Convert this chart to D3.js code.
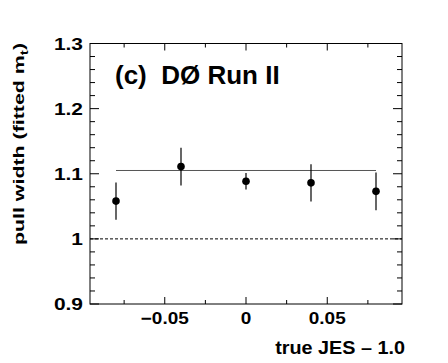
<!DOCTYPE html>
<html><head><meta charset="utf-8">
<script src="https://cdn.jsdelivr.net/npm/d3@7"></script>
<style>body{margin:0;background:#fff}text{font-family:"Liberation Sans",Arial,sans-serif;font-weight:bold}</style>
</head><body>
<svg id="c" width="448" height="363"></svg>
<script>
const jes = [-0.08, -0.04, 0.0, 0.04, 0.08];
const pullWidth = [1.058, 1.111, 1.0885, 1.086, 1.073];
const pullErr = [0.0285, 0.029, 0.0127, 0.0286, 0.029];
const fitValue = 1.105;
const fitRange = [-0.08, 0.08];
const xTicks = [-0.05, 0, 0.05];
const xTickLabels = ["\u22120.05", "0", "0.05"];
const yTicks = [0.9, 1.0, 1.1, 1.2, 1.3];
const yTickLabels = ["0.9", "1", "1.1", "1.2", "1.3"];

const svg = d3.select("#c");
const L = 90, R = 402, T = 43.5, B = 304;
const x = d3.scaleLinear().domain([-0.096, 0.096]).range([L, R]);
const y = d3.scaleLinear().domain([0.9, 1.3]).range([B, T]);

const g = svg.append("g");
g.append("rect").attr("x", L).attr("y", T).attr("width", R - L).attr("height", B - T)
  .attr("fill", "none").attr("stroke", "#000").attr("stroke-width", 1);

const xMinor = d3.range(-0.075, 0.0951, 0.025).map(v => +v.toFixed(3));
const yMinor = d3.range(0.9, 1.3001, 0.02).map(v => +v.toFixed(3));
const isMajorX = v => xTicks.some(t => Math.abs(t - v) < 1e-6);
const isMajorY = v => yTicks.some(t => Math.abs(t - v) < 1e-6);
xMinor.forEach(v => {
  const len = isMajorX(v) ? 7 : 4;
  g.append("line").attr("x1", x(v)).attr("x2", x(v)).attr("y1", B).attr("y2", B - len).attr("stroke", "#000");
  g.append("line").attr("x1", x(v)).attr("x2", x(v)).attr("y1", T).attr("y2", T + len).attr("stroke", "#000");
});
yMinor.forEach(v => {
  const len = isMajorY(v) ? 9 : 5;
  g.append("line").attr("y1", y(v)).attr("y2", y(v)).attr("x1", L).attr("x2", L + len).attr("stroke", "#000");
  g.append("line").attr("y1", y(v)).attr("y2", y(v)).attr("x1", R).attr("x2", R - len).attr("stroke", "#000");
});

xTicks.forEach((v, i) => {
  g.append("text").attr("transform", `translate(${x(v)},323.5) scale(1.15,1)`).attr("text-anchor", "middle")
    .attr("font-size", 16.5).text(xTickLabels[i]);
});
yTicks.forEach((v, i) => {
  g.append("text").attr("transform", `translate(83,${y(v) + 6}) scale(1.27,1)`).attr("text-anchor", "end")
    .attr("font-size", 16.5).text(yTickLabels[i]);
});

g.append("line").attr("x1", L).attr("x2", R).attr("y1", y(1)).attr("y2", y(1))
  .attr("stroke", "#000").attr("stroke-dasharray", "3,2").attr("stroke-width", 1);

g.append("line").attr("x1", x(fitRange[0])).attr("x2", x(fitRange[1]))
  .attr("y1", y(fitValue)).attr("y2", y(fitValue)).attr("stroke", "#555").attr("stroke-width", 1);

jes.forEach((v, i) => {
  g.append("line").attr("x1", x(v)).attr("x2", x(v))
    .attr("y1", y(pullWidth[i] - pullErr[i])).attr("y2", y(pullWidth[i] + pullErr[i]))
    .attr("stroke", "#000").attr("stroke-width", 1.2);
  g.append("circle").attr("cx", x(v)).attr("cy", y(pullWidth[i])).attr("r", 3.8).attr("fill", "#000");
});

g.append("text").attr("x", 115).attr("y", 84).attr("font-size", 26).style("white-space", "pre")
  .text("(c)  D\u00d8 Run II");

g.append("text").attr("transform", "translate(405,354) scale(1.1,1)").attr("text-anchor", "end").attr("font-size", 18)
  .text("true JES \u2013 1.0");
const yl = g.append("text").attr("transform", "translate(23.5,43) rotate(-90) scale(1.38,1)").attr("text-anchor", "end")
  .attr("font-size", 15.5);
yl.append("tspan").text("pull width (fitted m");
yl.append("tspan").attr("font-size", 11).attr("dy", 4).text("t");
yl.append("tspan").attr("dy", -4).text(")");
</script>
</body></html>
